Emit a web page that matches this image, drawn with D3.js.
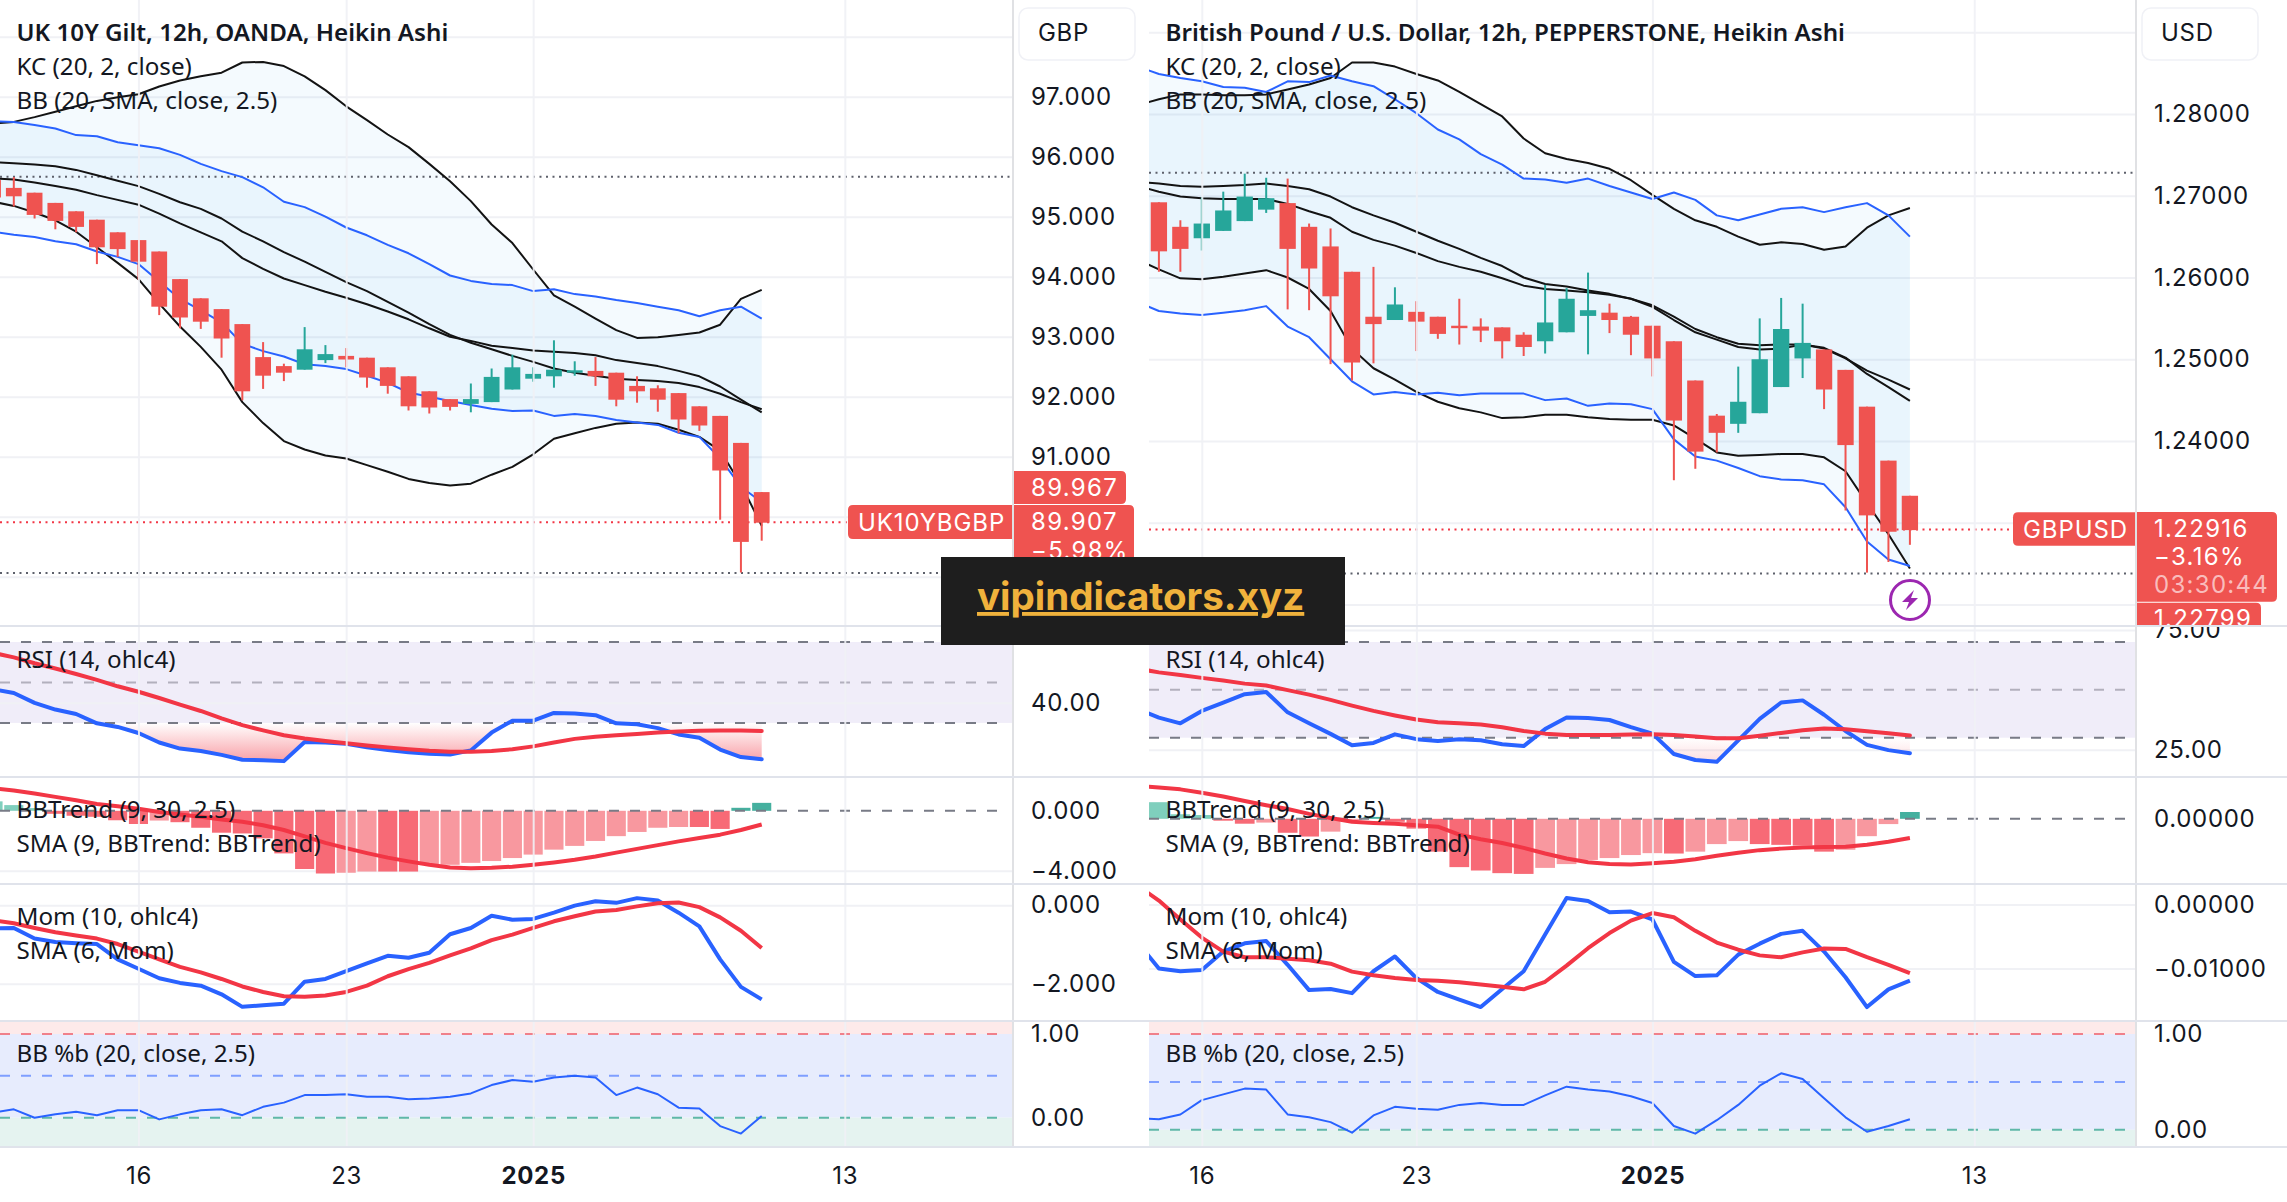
<!DOCTYPE html>
<html lang="en">
<head>
<meta charset="utf-8">
<title>UK 10Y Gilt vs GBPUSD</title>
<script src="https://d3js.org/d3.v7.min.js"></script>
<style>
  body { margin: 0; background: #fff; }
  text { font-family: Inter, "Noto Sans", sans-serif; }
  .legend text { font-family: "Noto Sans", sans-serif; font-size: 24.2px; fill: #131722; }
  .axis text { font-family: Inter, sans-serif; font-size: 24px; fill: #131722; letter-spacing: .7px; }
  .axis .domain { display: none; }
  .grid .domain { display: none; }
  .grid line { stroke: #f0f1f5; stroke-width: 2; }
</style>
</head>
<body>
<svg id="chart" width="2287" height="1202"></svg>
<script>
// ---- UK10YBGBP, candles start one bar off screen
const ukOpen = [95.61,95.48,95.40,95.23,95.09,94.95,94.74,94.61,94.42,93.96,93.64,93.46,93.21,92.66,92.51,92.45,92.61,92.68,92.65,92.49,92.34,92.09,91.96,91.88,91.91,92.12,92.30,92.34,92.40,92.43,92.40,92.18,92.14,92.06,91.84,91.68,91.23,90.41];
const ukHigh = [95.66,95.66,95.40,95.23,95.09,94.95,94.74,94.61,94.42,93.96,93.64,93.46,93.21,92.91,92.55,93.16,92.86,92.81,92.65,92.49,92.34,92.09,91.96,92.22,92.47,92.70,92.49,92.94,92.59,92.66,92.40,92.34,92.19,92.06,91.84,91.68,91.23,90.41];
const ukLow = [95.30,95.17,94.97,94.79,94.74,94.21,94.33,93.95,93.36,93.14,93.13,92.65,91.94,92.13,92.26,92.45,92.56,92.49,92.15,92.05,91.77,91.72,91.77,91.74,91.91,92.12,92.25,92.15,92.35,92.18,91.84,91.90,91.75,91.39,91.43,89.95,89.07,89.60];
const ukClose = [95.32,95.34,95.03,94.93,94.83,94.49,94.46,94.25,93.50,93.32,93.25,92.97,92.09,92.35,92.40,92.79,92.71,92.62,92.32,92.18,91.84,91.82,91.83,91.96,92.33,92.49,92.38,92.45,92.44,92.34,91.95,92.09,91.95,91.62,91.52,90.77,89.58,89.90];
const ukKcUpper = [96.55,96.58,96.66,96.75,96.84,96.93,96.99,97.04,97.17,97.27,97.34,97.40,97.57,97.58,97.51,97.34,97.11,96.84,96.61,96.37,96.16,95.88,95.59,95.26,94.87,94.56,94.12,93.69,93.50,93.30,93.11,92.98,92.99,93.03,93.07,93.20,93.63,93.78];
const ukKcLower = [95.25,95.18,95.07,94.94,94.75,94.49,94.23,93.96,93.55,93.17,92.83,92.45,91.91,91.56,91.26,91.12,91.02,90.97,90.86,90.75,90.63,90.56,90.52,90.55,90.70,90.83,91.04,91.30,91.39,91.48,91.55,91.57,91.55,91.45,91.33,91.10,90.54,89.85];
const ukBasisA = [95.91,95.89,95.87,95.84,95.78,95.69,95.60,95.51,95.38,95.24,95.13,94.97,94.75,94.59,94.41,94.25,94.08,93.91,93.76,93.58,93.40,93.21,93.03,92.90,92.79,92.68,92.58,92.47,92.40,92.35,92.30,92.28,92.26,92.23,92.16,92.05,91.91,91.79];
const ukBasisB = [95.64,95.62,95.57,95.51,95.45,95.36,95.28,95.20,95.05,94.89,94.74,94.59,94.31,94.13,93.97,93.86,93.75,93.65,93.54,93.42,93.29,93.14,93.00,92.93,92.85,92.81,92.77,92.75,92.73,92.69,92.61,92.56,92.51,92.43,92.34,92.17,91.95,91.74];
const ukBbUpper = [96.59,96.58,96.53,96.47,96.36,96.34,96.24,96.19,96.14,96.03,95.88,95.76,95.66,95.49,95.25,95.16,95.00,94.82,94.69,94.53,94.39,94.21,94.02,93.93,93.88,93.86,93.76,93.79,93.71,93.67,93.61,93.56,93.50,93.44,93.34,93.44,93.50,93.30];
const ukBbLower = [94.75,94.70,94.66,94.59,94.54,94.42,94.33,94.21,93.92,93.63,93.44,93.24,92.88,92.76,92.67,92.54,92.51,92.46,92.35,92.23,92.07,92.00,91.93,91.86,91.80,91.76,91.77,91.68,91.71,91.68,91.61,91.57,91.53,91.40,91.33,90.97,90.50,90.24];
const ukRsi = [46.7,44.8,39.9,36.6,34.4,29.8,28.0,25.0,20.3,17.3,16.1,14.2,11.8,11.5,11.1,20.6,20.3,19.7,17.9,16.6,15.5,14.8,14.4,16.4,25.2,31.1,31.1,34.9,34.6,33.8,29.8,29.3,27.4,24.3,22.7,16.8,13.1,12.0];
const ukRsiMa = [64.6,62.4,59.5,56.9,54.2,51.3,48.1,45.4,42.3,39.0,35.9,32.2,28.9,26.3,23.9,22.3,21.0,19.9,18.8,17.9,17.0,16.2,15.7,15.7,16.1,17.0,18.4,20.3,22.1,23.2,23.9,24.5,25.2,25.8,26.1,26.3,26.3,26.0];
const ukTrend = [0.63,0.38,0.18,-0.20,-0.33,-0.40,-0.63,-0.88,-0.65,-0.76,-1.13,-1.46,-1.51,-1.84,-2.84,-3.88,-4.18,-4.13,-4.05,-4.05,-4.05,-3.62,-3.60,-3.47,-3.35,-3.15,-2.92,-2.59,-2.34,-2.01,-1.69,-1.41,-1.13,-1.08,-1.08,-1.21,0.20,0.53];
const ukTrendSma = [1.51,1.36,1.16,0.93,0.70,0.45,0.30,0.13,-0.08,-0.25,-0.40,-0.58,-0.73,-0.96,-1.28,-1.71,-2.14,-2.49,-2.82,-3.12,-3.37,-3.60,-3.78,-3.83,-3.80,-3.73,-3.60,-3.45,-3.27,-3.05,-2.79,-2.54,-2.29,-2.04,-1.81,-1.59,-1.28,-0.91];
const ukMom = [-0.59,-0.58,-0.85,-0.94,-0.97,-0.99,-1.38,-1.62,-1.86,-1.98,-2.05,-2.27,-2.59,-2.55,-2.51,-1.95,-1.88,-1.68,-1.48,-1.29,-1.34,-1.21,-0.74,-0.58,-0.27,-0.37,-0.35,-0.19,-0.01,0.10,0.06,0.18,0.12,-0.19,-0.54,-1.38,-2.08,-2.40];
const ukMomSma = [-0.38,-0.46,-0.58,-0.69,-0.77,-0.85,-0.99,-1.18,-1.38,-1.57,-1.71,-1.88,-2.07,-2.21,-2.32,-2.33,-2.30,-2.21,-2.05,-1.81,-1.63,-1.47,-1.28,-1.10,-0.89,-0.75,-0.58,-0.41,-0.28,-0.16,-0.12,-0.03,0.05,0.07,-0.05,-0.31,-0.65,-1.09];
const ukPctB = [0.06,0.10,0.00,0.04,0.07,0.03,0.09,0.09,-0.02,0.04,0.09,0.10,0.03,0.13,0.18,0.27,0.27,0.28,0.25,0.25,0.22,0.23,0.25,0.29,0.39,0.45,0.43,0.48,0.50,0.48,0.27,0.36,0.28,0.12,0.11,-0.10,-0.19,0.02];

// ---- GBPUSD, candles and BBTrend bars start at bar 0, the lines one bar earlier
const guOpen = [1.2692,1.2662,1.2648,1.2657,1.2669,1.2683,1.2691,1.2662,1.2638,1.2607,1.2552,1.2548,1.2558,1.2552,1.2541,1.2540,1.2539,1.2530,1.2522,1.2533,1.2553,1.2557,1.2552,1.2541,1.2522,1.2474,1.2431,1.2421,1.2434,1.2466,1.2501,1.2512,1.2487,1.2442,1.2376,1.2333];
const guHigh = [1.2692,1.2670,1.2698,1.2705,1.2727,1.2722,1.2721,1.2666,1.2660,1.2607,1.2613,1.2588,1.2571,1.2552,1.2574,1.2550,1.2539,1.2533,1.2591,1.2587,1.2606,1.2568,1.2553,1.2541,1.2522,1.2474,1.2433,1.2491,1.2550,1.2575,1.2568,1.2512,1.2487,1.2442,1.2376,1.2333];
const guLow = [1.2607,1.2607,1.2633,1.2657,1.2669,1.2679,1.2561,1.2560,1.2494,1.2474,1.2495,1.2548,1.2510,1.2525,1.2518,1.2521,1.2501,1.2504,1.2507,1.2533,1.2506,1.2532,1.2505,1.2479,1.2352,1.2366,1.2386,1.2410,1.2434,1.2466,1.2477,1.2439,1.2315,1.2239,1.2252,1.2273];
const guClose = [1.2632,1.2635,1.2666,1.2682,1.2699,1.2697,1.2635,1.2611,1.2577,1.2496,1.2543,1.2567,1.2546,1.2531,1.2538,1.2535,1.2522,1.2515,1.2545,1.2574,1.2560,1.2548,1.2530,1.2501,1.2425,1.2387,1.2410,1.2448,1.2500,1.2537,1.2520,1.2463,1.2395,1.2309,1.2289,1.2291];
const guKcUpper = [1.2811,1.2818,1.2824,1.2824,1.2823,1.2823,1.2824,1.2830,1.2836,1.2844,1.2863,1.2863,1.2858,1.2849,1.2841,1.2827,1.2812,1.2797,1.2770,1.2752,1.2745,1.2740,1.2733,1.2719,1.2701,1.2684,1.2670,1.2662,1.2650,1.2640,1.2643,1.2641,1.2634,1.2638,1.2661,1.2676,1.2685];
const guKcLower = [1.2622,1.2610,1.2599,1.2598,1.2601,1.2605,1.2609,1.2600,1.2586,1.2559,1.2513,1.2489,1.2475,1.2460,1.2448,1.2440,1.2435,1.2428,1.2429,1.2432,1.2432,1.2429,1.2427,1.2426,1.2426,1.2419,1.2403,1.2386,1.2382,1.2383,1.2384,1.2384,1.2380,1.2363,1.2324,1.2286,1.2244];
const guBasisA = [1.2717,1.2715,1.2712,1.2711,1.2712,1.2713,1.2715,1.2712,1.2708,1.2699,1.2686,1.2676,1.2667,1.2656,1.2645,1.2635,1.2624,1.2614,1.2600,1.2592,1.2589,1.2584,1.2580,1.2574,1.2566,1.2552,1.2537,1.2527,1.2519,1.2517,1.2518,1.2518,1.2513,1.2501,1.2486,1.2475,1.2463];
const guBasisB = [1.2712,1.2705,1.2699,1.2697,1.2696,1.2696,1.2696,1.2690,1.2681,1.2673,1.2656,1.2646,1.2639,1.2630,1.2620,1.2613,1.2607,1.2599,1.2590,1.2586,1.2584,1.2582,1.2579,1.2574,1.2564,1.2548,1.2533,1.2524,1.2515,1.2512,1.2513,1.2518,1.2514,1.2502,1.2482,1.2466,1.2449];
const guBbUpper = [1.2858,1.2849,1.2844,1.2840,1.2833,1.2832,1.2827,1.2840,1.2839,1.2847,1.2840,1.2834,1.2818,1.2801,1.2781,1.2769,1.2751,1.2738,1.2721,1.2720,1.2716,1.2721,1.2712,1.2704,1.2696,1.2704,1.2695,1.2676,1.2670,1.2677,1.2684,1.2686,1.2680,1.2686,1.2691,1.2676,1.2650];
const guBbLower = [1.2570,1.2559,1.2556,1.2554,1.2557,1.2560,1.2565,1.2540,1.2527,1.2500,1.2473,1.2457,1.2460,1.2457,1.2459,1.2456,1.2458,1.2458,1.2458,1.2450,1.2452,1.2443,1.2446,1.2445,1.2439,1.2402,1.2381,1.2376,1.2367,1.2357,1.2353,1.2352,1.2347,1.2319,1.2277,1.2255,1.2247];
const guRsi = [42.0,38.4,36.0,41.2,44.7,48.2,49.1,40.6,36.0,31.6,26.8,27.8,31.4,29.4,28.6,29.4,28.9,27.3,26.5,33.6,38.4,38.2,37.4,34.4,31.7,23.2,20.7,19.9,28.9,37.9,44.7,45.6,39.6,32.8,27.0,24.8,23.5];
const guRsiMa = [58.9,57.3,56.2,55.0,53.9,52.6,51.8,49.9,48.0,45.8,43.4,41.2,39.3,37.6,36.5,36.0,35.5,34.4,32.8,31.7,31.1,31.1,31.1,31.3,31.4,31.1,30.5,29.8,29.8,30.8,32.0,33.1,33.8,33.5,32.7,31.9,30.9];
const guTrend = [0.22,0.06,0.05,-0.025,-0.065,-0.05,-0.185,-0.235,-0.17,-0.015,0.025,-0.04,-0.13,-0.435,-0.64,-0.685,-0.72,-0.73,-0.65,-0.60,-0.545,-0.52,-0.48,-0.455,-0.46,-0.435,-0.335,-0.295,-0.335,-0.345,-0.355,-0.435,-0.41,-0.23,-0.07,0.09];
const guTrendSma = [0.435,0.415,0.39,0.345,0.295,0.235,0.18,0.13,0.065,0.01,-0.04,-0.055,-0.065,-0.085,-0.105,-0.21,-0.27,-0.32,-0.385,-0.46,-0.525,-0.575,-0.60,-0.605,-0.59,-0.57,-0.535,-0.49,-0.45,-0.415,-0.395,-0.38,-0.375,-0.37,-0.345,-0.305,-0.255];
const guMom = [-0.00588,-0.01000,-0.01041,-0.01023,-0.00735,-0.00606,-0.00570,-0.00941,-0.01335,-0.01317,-0.01382,-0.01041,-0.00811,-0.01147,-0.01364,-0.01482,-0.01599,-0.01317,-0.01041,-0.00470,0.00100,0.00053,-0.00123,-0.00112,-0.00235,-0.00894,-0.01117,-0.01105,-0.00782,-0.00612,-0.00459,-0.00412,-0.00735,-0.01135,-0.01599,-0.01323,-0.01188];
const guMomSma = [0.00294,0.00059,-0.00235,-0.00517,-0.00735,-0.00823,-0.00823,-0.00847,-0.00870,-0.00923,-0.01047,-0.01105,-0.01147,-0.01176,-0.01188,-0.01211,-0.01247,-0.01282,-0.01323,-0.01205,-0.00953,-0.00682,-0.00447,-0.00253,-0.00135,-0.00200,-0.00412,-0.00594,-0.00706,-0.00794,-0.00823,-0.00747,-0.00688,-0.00694,-0.00823,-0.00941,-0.01070];
const guPctB = [0.12,0.11,0.16,0.31,0.37,0.43,0.42,0.16,0.13,0.08,-0.03,0.15,0.24,0.22,0.21,0.26,0.28,0.26,0.26,0.36,0.45,0.42,0.40,0.35,0.28,0.04,-0.04,0.10,0.26,0.46,0.59,0.53,0.33,0.13,-0.02,0.04,0.11];

// ticks and labels
const ukPriceTicks = [97,96,95,94,93,92,91];
const ukPriceGrid = [98,97,96,95,94,93,92,91,90,89];
const guPriceTicks = [1.28,1.27,1.26,1.25,1.24];
const guPriceGrid = [1.29,1.28,1.27,1.26,1.25,1.24,1.23,1.22];
const ukDateTicks = [6,16,25,40];
const guDateTicks = [2,12,23,38];
const dateLabels = ["16","23","2025","13"];

const RED = "#ef5350", TEAL = "#26a69a", BLUE = "#2962ff", LINE_RED = "#f23645", BLACK = "#131313";
const PANE_TOP = { main: 0, rsi: 627, trend: 778, mom: 885, pctb: 1022 };
const PANE_BOTTOM = { main: 625, rsi: 776, trend: 883, mom: 1020, pctb: 1146 };

const svg = d3.select("#chart");
const defs = svg.append("defs");
const fmt3 = d3.format(".3f"), fmt5 = d3.format(".5f"), fmt2 = d3.format(".2f");

function drawChart(c) {
    const root = svg.append("g").attr("id", c.id);
    const x = c.x;
    const w = c.right - c.left;
    const barW = (x(1) - x(0)) * 0.76;
    const histW = (x(1) - x(0)) * 0.92;

    // clip for every pane
    Object.keys(PANE_TOP).forEach(k => {
        defs.append("clipPath").attr("id", c.id + "-" + k).append("rect")
            .attr("x", c.left).attr("y", PANE_TOP[k]).attr("width", w).attr("height", PANE_BOTTOM[k] - PANE_TOP[k]);
    });
    const pane = k => root.append("g").attr("clip-path", "url(#" + c.id + "-" + k + ")");
    const lineOf = (y, from) => d3.line().x((d, i) => x(i + from)).y(d => y(d));
    const hGrid = (g, y, ticks) => g.append("g").attr("class", "grid")
        .attr("transform", "translate(" + c.left + ",0)")
        .call(d3.axisRight(y).tickValues(ticks).tickSize(w).tickFormat(""));
    const dashed = (g, yPos, color, dash) => g.append("line")
        .attr("x1", c.left).attr("x2", c.right - (dash ? 10 : 0)).attr("y1", yPos).attr("y2", yPos)
        .attr("stroke", color).attr("stroke-width", 2).attr("stroke-dasharray", dash || "2 4.5");
    const plot = (g, data, y, from, color, width) => g.append("path").datum(data)
        .attr("fill", "none").attr("stroke", color).attr("stroke-width", width)
        .attr("stroke-linejoin", "round").attr("d", lineOf(y, from));

    // MAIN
    const main = pane("main");
    hGrid(main, c.yPrice, c.priceGrid);
    [[c.kcUpper, c.kcLower], [c.bbUpper, c.bbLower]].forEach(b => {
        main.append("path").datum(d3.range(b[0].length)).attr("fill", "#2196f3").attr("fill-opacity", 0.05)
            .attr("d", d3.area().x(i => x(i + c.lineFrom)).y0(i => c.yPrice(b[1][i])).y1(i => c.yPrice(b[0][i])));
    });
    c.hiLo.forEach(v => dashed(main, c.yPrice(v), "#5d606b"));
    dashed(main, c.yPrice(c.last), LINE_RED);

    [c.kcUpper, c.kcLower, c.basisA, c.basisB].forEach(s => plot(main, s, c.yPrice, c.lineFrom, BLACK, 2));
    [c.bbUpper, c.bbLower].forEach(s => plot(main, s, c.yPrice, c.lineFrom, BLUE, 2));

    const candles = main.selectAll(".candle").data(c.open.map((o, i) => ({ i: i + c.candleFrom, o: o, h: c.high[i], l: c.low[i], cl: c.close[i] })))
        .enter().append("g").attr("class", "candle")
        .attr("fill", d => d.cl >= d.o ? TEAL : RED).attr("stroke", d => d.cl >= d.o ? TEAL : RED);
    candles.append("line").attr("x1", d => x(d.i)).attr("x2", d => x(d.i))
        .attr("y1", d => c.yPrice(d.h)).attr("y2", d => c.yPrice(d.l)).attr("stroke-width", 2);
    candles.append("rect").attr("stroke", "none").attr("x", d => x(d.i) - barW / 2).attr("width", barW)
        .attr("y", d => c.yPrice(Math.max(d.o, d.cl))).attr("height", d => Math.abs(c.yPrice(d.o) - c.yPrice(d.cl)));

    // RSI
    const rsi = pane("rsi");
    rsi.append("rect").attr("x", c.left).attr("width", w).attr("y", c.yRsi(70)).attr("height", c.yRsi(30) - c.yRsi(70)).attr("fill", "#f0edf9");
    hGrid(rsi, c.yRsi, c.rsiGrid);
    dashed(rsi, c.yRsi(70), "#787b86", "10 11");
    dashed(rsi, c.yRsi(50), "#b2b0bd", "10 11");
    dashed(rsi, c.yRsi(30), "#787b86", "10 11");
    const grad = defs.append("linearGradient").attr("id", c.id + "-os").attr("gradientUnits", "userSpaceOnUse")
        .attr("x1", 0).attr("x2", 0).attr("y1", c.yRsi(30)).attr("y2", c.yRsi(c.osDepth));
    grad.append("stop").attr("offset", 0).attr("stop-color", LINE_RED).attr("stop-opacity", 0);
    grad.append("stop").attr("offset", 1).attr("stop-color", LINE_RED).attr("stop-opacity", 0.5);
    rsi.append("path").datum(c.rsi).attr("fill", "url(#" + c.id + "-os)")
        .attr("d", d3.area().x((d, i) => x(i + c.lineFrom)).y0(c.yRsi(30)).y1(d => c.yRsi(Math.min(d, 30))));
    plot(rsi, c.rsi, c.yRsi, c.lineFrom, BLUE, 4).attr("stroke-linecap", "round");
    plot(rsi, c.rsiMa, c.yRsi, c.lineFrom, LINE_RED, 4).attr("stroke-linecap", "round");

    // BBTrend
    const trend = pane("trend");
    hGrid(trend, c.yTrend, c.trendGrid);
    trend.selectAll(".bar").data(c.trend).enter().append("rect").attr("class", "bar")
        .attr("x", (d, i) => x(i + c.candleFrom) - histW / 2).attr("width", histW)
        .attr("y", d => c.yTrend(Math.max(d, 0))).attr("height", d => Math.abs(c.yTrend(d) - c.yTrend(0)))
        .attr("fill", (d, i) => {
            const rising = i > 0 && d > c.trend[i - 1];
            if (d >= 0) return rising ? "#45b09f" : "#7fcfbd";
            return rising ? "#f8989f" : "#f76a76";
        });
    dashed(trend, c.yTrend(0), "#787b86", "10 11");
    plot(trend, c.trendSma, c.yTrend, c.lineFrom, LINE_RED, 4);

    // Momentum
    const mom = pane("mom");
    hGrid(mom, c.yMom, c.momGrid);
    plot(mom, c.mom, c.yMom, c.lineFrom, BLUE, 4);
    plot(mom, c.momSma, c.yMom, c.lineFrom, LINE_RED, 4);

    // BB %b
    const pb = pane("pctb");
    const rectBand = (y0, y1, col) => pb.append("rect").attr("x", c.left).attr("width", w).attr("y", y0).attr("height", y1 - y0).attr("fill", col);
    rectBand(PANE_TOP.pctb, c.yPct(1), "#fdeaea");
    rectBand(c.yPct(1), c.yPct(0), "#e7ecfd");
    rectBand(c.yPct(0), PANE_BOTTOM.pctb, "#e5f3f0");
    dashed(pb, c.yPct(1), "#f0808a", "10 11");
    dashed(pb, c.yPct(0.5), "#7f9eff", "10 11");
    dashed(pb, c.yPct(0), "#5fb8a8", "10 11");
    plot(pb, c.pct, c.yPct, c.lineFrom, BLUE, 2);

    // vertical grid and date axis
    const vGrid = root.append("g").attr("class", "grid").attr("transform", "translate(0,1147)")
        .call(d3.axisBottom(x).tickValues(c.dateTicks).tickSize(-1147).tickFormat(""));
    vGrid.selectAll("line").attr("stroke-opacity", 0.9);
    const dates = root.append("g").attr("class", "axis").attr("transform", "translate(0,1147)")
        .call(d3.axisBottom(x).tickValues(c.dateTicks).tickSize(0).tickPadding(20).tickFormat((d, i) => dateLabels[i]));
    dates.selectAll("text").attr("font-weight", (d, i) => dateLabels[i] === "2025" ? 700 : 400);

    // price scale column
    root.append("line").attr("x1", c.right + 1).attr("x2", c.right + 1).attr("y1", 0).attr("y2", 1147).attr("stroke", "#e0e1e4").attr("stroke-width", 2);
    const axisR = (g, y, ticks, f) => g.append("g").attr("class", "axis")
        .attr("transform", "translate(" + c.tickX + ",0)")
        .call(d3.axisRight(y).tickValues(ticks).tickSize(0).tickPadding(0).tickFormat(f));
    axisR(root, c.yPrice, c.priceTicks, c.priceFmt);
    root.append("rect").attr("x", c.right + 7).attr("y", 8).attr("width", 116).attr("height", 52).attr("rx", 9)
        .attr("fill", "#fff").attr("stroke", "#f0f1f6").attr("stroke-width", 1.5);
    root.append("text").attr("x", c.right + 26).attr("y", 33).attr("dy", ".34em").attr("font-size", 24).attr("letter-spacing", ".7px").attr("fill", "#131722").text(c.currency);
    axisR(root.append("g").attr("clip-path", "url(#" + c.id + "-axis-rsi)"), c.yRsi, c.rsiTicks, fmt2);
    axisR(root, c.yTrend, c.trendTicks, c.trendFmt);
    axisR(root, c.yMom, c.momTicks, c.momFmt);
    axisR(root, c.yPct, [1, 0], fmt2);

    // last price tags
    const tags = root.append("g").attr("clip-path", "url(#" + c.id + "-tagclip)");
    c.tags.forEach(t => {
        tags.append("path").attr("d", roundRect(c.right + 2, t.y0, t.w, t.y1 - t.y0, t.rl, 5)).attr("fill", RED);
        t.rows.forEach(r => {
            tags.append("text").attr("x", c.tickX).attr("y", r.y).attr("dy", ".36em")
                .attr("font-size", 24).attr("letter-spacing", "1.3px").attr("fill", r.c || "#fff").text(r.t);
        });
    });
    const sym = c.symTag;
    const symG = root.append("g");
    symG.append("path").attr("d", roundRect(c.right - sym.w, sym.y0, sym.w, sym.h, 5, 0)).attr("fill", RED);
    symG.append("text").attr("x", c.right - sym.w + 10).attr("y", sym.y0 + sym.h / 2).attr("dy", ".36em")
        .attr("font-size", 24).attr("letter-spacing", ".9px").attr("fill", "#fff").text(sym.t);

    // legends sit on top of the lines
    const leg = root.append("g").attr("class", "legend");
    c.legend.forEach(l => {
        leg.append("text").attr("x", c.left + c.legendDx).attr("y", l[1]).attr("font-weight", l[2] ? 600 : 400).text(l[0]);
    });
}
// rectangle with separate left and right corner radius
function roundRect(x, y, w, h, rl, rr) {
    return "M" + (x + rl) + "," + y + "H" + (x + w - rr) + "Q" + (x + w) + "," + y + " " + (x + w) + "," + (y + rr)
        + "V" + (y + h - rr) + "Q" + (x + w) + "," + (y + h) + " " + (x + w - rr) + "," + (y + h)
        + "H" + (x + rl) + "Q" + x + "," + (y + h) + " " + x + "," + (y + h - rl) + "V" + (y + rl) + "Q" + x + "," + y + " " + (x + rl) + "," + y + "Z";
}
// price column clips, so 75.00 and 1.22799 are cut at the pane line
["uk", "gu"].forEach((id, n) => {
    defs.append("clipPath").attr("id", id + "-axis-rsi").append("rect")
        .attr("x", n ? 2136 : 1013).attr("y", 627).attr("width", 151).attr("height", 150);
    defs.append("clipPath").attr("id", id + "-tagclip").append("rect")
        .attr("x", n ? 2136 : 1013).attr("y", 0).attr("width", 151).attr("height", 625);
});

drawChart({
    id: "uk", left: 0, right: 1012, tickX: 1031, legendDx: 16.5, currency: "GBP",
    x: d3.scaleLinear().domain([0, 36]).range([13.8, 761.7]),
    dateTicks: ukDateTicks, lineFrom: -1, candleFrom: -1,
    yPrice: d3.scaleLinear().domain([97, 91]).range([96.7, 456.7]),
    yRsi: d3.scaleLinear().domain([30, 70]).range([722.9, 642]),
    yTrend: d3.scaleLinear().domain([0, -4]).range([810.8, 870.8]),
    yMom: d3.scaleLinear().domain([0, -2]).range([905.2, 983.7]),
    yPct: d3.scaleLinear().domain([1, 0]).range([1034, 1117.7]),
    priceTicks: ukPriceTicks, priceGrid: ukPriceGrid, priceFmt: fmt3,
    rsiGrid: [40], rsiTicks: [40], trendGrid: [-4], trendTicks: [0, -4], trendFmt: fmt3,
    momGrid: [0, -2], momTicks: [0, -2], momFmt: fmt3, osDepth: 10,
    hiLo: [95.666, 89.063], last: 89.907,
    open: ukOpen, high: ukHigh, low: ukLow, close: ukClose,
    kcUpper: ukKcUpper, kcLower: ukKcLower, basisA: ukBasisA, basisB: ukBasisB, bbUpper: ukBbUpper, bbLower: ukBbLower,
    rsi: ukRsi, rsiMa: ukRsiMa, trend: ukTrend, trendSma: ukTrendSma, mom: ukMom, momSma: ukMomSma, pct: ukPctB,
    tags: [
        { y0: 471, y1: 504, w: 112, rl: 0, rows: [{ t: "89.967", y: 487.7 }] },
        { y0: 505, y1: 572, w: 120, rl: 0, rows: [{ t: "89.907", y: 521.7 }, { t: "\u22125.98%", y: 550 }] }
    ],
    symTag: { t: "UK10YBGBP", y0: 505, h: 34, w: 164 },
    legend: [["UK 10Y Gilt, 12h, OANDA, Heikin Ashi", 40.7, true], ["KC (20, 2, close)", 75], ["BB (20, SMA, close, 2.5)", 108.7],
        ["RSI (14, ohlc4)", 667.8], ["BBTrend (9, 30, 2.5)", 818.4], ["SMA (9, BBTrend: BBTrend)", 852.4],
        ["Mom (10, ohlc4)", 925.2], ["SMA (6, Mom)", 959.2], ["BB %b (20, close, 2.5)", 1062.2]]
});

drawChart({
    id: "gu", left: 1149, right: 2135, tickX: 2154, legendDx: 16.5, currency: "USD",
    x: d3.scaleLinear().domain([0, 35]).range([1158.9, 1909.9]),
    dateTicks: guDateTicks, lineFrom: -1, candleFrom: 0,
    yPrice: d3.scaleLinear().domain([1.28, 1.24]).range([114, 441]),
    yRsi: d3.scaleLinear().domain([30, 70]).range([737.7, 642]),
    yTrend: d3.scaleLinear().domain([0, -1]).range([818.8, 894.3]),
    yMom: d3.scaleLinear().domain([0, -0.01]).range([904.4, 968.6]),
    yPct: d3.scaleLinear().domain([1, 0]).range([1034, 1129.8]),
    priceTicks: guPriceTicks, priceGrid: guPriceGrid, priceFmt: fmt5,
    rsiGrid: [75, 25], rsiTicks: [75, 25], trendGrid: [], trendTicks: [0], trendFmt: fmt5,
    momGrid: [0, -0.01], momTicks: [0, -0.01], momFmt: fmt5, osDepth: 0,
    hiLo: [1.2728, 1.2238], last: 1.22916,
    open: guOpen, high: guHigh, low: guLow, close: guClose,
    kcUpper: guKcUpper, kcLower: guKcLower, basisA: guBasisA, basisB: guBasisB, bbUpper: guBbUpper, bbLower: guBbLower,
    rsi: guRsi, rsiMa: guRsiMa, trend: guTrend, trendSma: guTrendSma, mom: guMom, momSma: guMomSma, pct: guPctB,
    tags: [
        { y0: 512, y1: 601.7, w: 140, rl: 0, rows: [{ t: "1.22916", y: 528 }, { t: "\u22123.16%", y: 556.7 }, { t: "03:30:44", y: 584.3, c: "#f9bcbc" }] },
        { y0: 602.7, y1: 630, w: 124, rl: 0, rows: [{ t: "1.22799", y: 618 }] }
    ],
    symTag: { t: "GBPUSD", y0: 512.3, h: 33.4, w: 122 },
    legend: [["British Pound / U.S. Dollar, 12h, PEPPERSTONE, Heikin Ashi", 40.7, true], ["KC (20, 2, close)", 75], ["BB (20, SMA, close, 2.5)", 108.7],
        ["RSI (14, ohlc4)", 667.8], ["BBTrend (9, 30, 2.5)", 818.4], ["SMA (9, BBTrend: BBTrend)", 852.4],
        ["Mom (10, ohlc4)", 925.2], ["SMA (6, Mom)", 959.2], ["BB %b (20, close, 2.5)", 1062.2]]
});

// pane separators across the page
[626, 777, 884, 1021, 1147].forEach(y => {
    svg.append("line").attr("x1", 0).attr("x2", 2287).attr("y1", y).attr("y2", y).attr("stroke", "#e0e3eb").attr("stroke-width", 2);
});

// the alert icon under the last GBPUSD bar
const alertIcon = svg.append("g").attr("transform", "translate(1910,600)");
alertIcon.append("circle").attr("r", 19.5).attr("fill", "#fff").attr("stroke", "#9c27b0").attr("stroke-width", 3);
alertIcon.append("path").attr("d", "M4,-10L-8,2L-1,2L-4,10L8,-2L1,-2Z").attr("fill", "#9c27b0");

// banner on top of everything
svg.append("rect").attr("x", 941).attr("y", 557).attr("width", 404).attr("height", 88).attr("fill", "#1e1e1e");
svg.append("text").attr("x", 977).attr("y", 610).attr("font-family", "Inter").attr("font-size", 38.5).attr("font-weight", 700)
    .attr("fill", "#f0b23c").attr("text-decoration", "underline").text("vipindicators.xyz");
</script>
</body>
</html>
